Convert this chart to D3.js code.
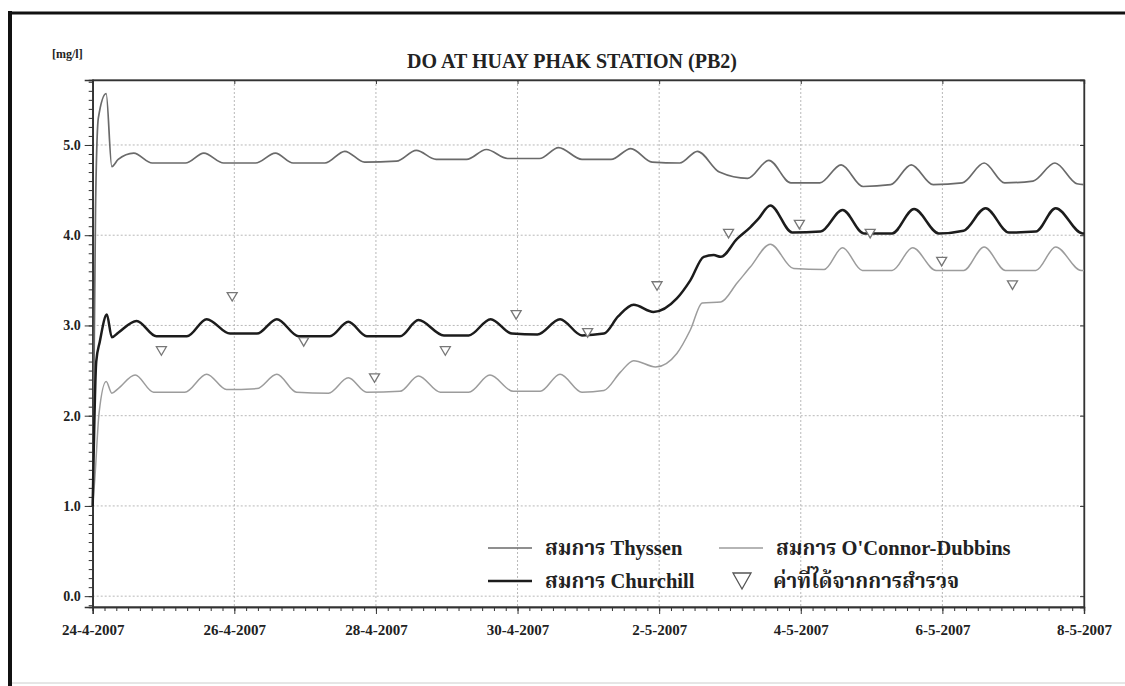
<!DOCTYPE html>
<html>
<head>
<meta charset="utf-8">
<script src="https://cdn.jsdelivr.net/npm/d3@7/dist/d3.min.js"></script>
<style>
body{margin:0;background:#fff;}
svg{display:block;}
.tick text{font-family:"Liberation Serif","Times New Roman",serif;font-weight:bold;fill:#222;}
.axis path,.axis line{stroke:#333;}
.grid line{stroke:#b8b8b8;stroke-dasharray:2,2;}
</style>
</head>
<body>
<div id="plot"></div>
<script>
//chart values, time given as days after 24-4-2007 00:00
var START = new Date(2007,3,24), END = new Date(2007,4,8);
var yTicks = [0,1,2,3,4,5];
var xTickDays = [0,2,4,6,8,10,12,14];

var thyssen = [[0,1.0],[0.04,4.3],[0.08,5.3],[0.19,5.57],[0.27,4.76],[0.36,4.84],[0.58,4.91],[0.84,4.80],[1.31,4.80],[1.57,4.91],[1.85,4.80],[2.30,4.80],[2.58,4.91],[2.83,4.80],[3.28,4.80],[3.56,4.93],[3.84,4.81],[4.29,4.82],[4.57,4.94],[4.85,4.84],[5.28,4.84],[5.56,4.95],[5.86,4.85],[6.31,4.85],[6.58,4.97],[6.91,4.84],[7.32,4.84],[7.60,4.96],[7.90,4.81],[8.29,4.80],[8.54,4.93],[8.85,4.70],[9.25,4.63],[9.55,4.83],[9.86,4.58],[10.27,4.58],[10.57,4.78],[10.88,4.54],[11.27,4.56],[11.56,4.78],[11.87,4.56],[12.28,4.58],[12.59,4.80],[12.88,4.58],[13.28,4.60],[13.59,4.80],[13.90,4.57],[14.0,4.56]];

var oconnor = [[0,1.0],[0.03,1.3],[0.09,2.03],[0.19,2.38],[0.27,2.25],[0.36,2.30],[0.60,2.45],[0.86,2.26],[1.30,2.26],[1.61,2.46],[1.89,2.29],[2.32,2.30],[2.60,2.46],[2.88,2.26],[3.33,2.25],[3.61,2.42],[3.87,2.26],[4.34,2.27],[4.60,2.44],[4.91,2.26],[5.31,2.26],[5.61,2.45],[5.94,2.27],[6.32,2.27],[6.60,2.46],[6.91,2.26],[7.22,2.28],[7.45,2.48],[7.64,2.61],[7.95,2.54],[8.25,2.69],[8.44,2.95],[8.61,3.25],[8.87,3.26],[9.10,3.47],[9.29,3.65],[9.57,3.90],[9.90,3.63],[10.33,3.62],[10.59,3.86],[10.87,3.61],[11.29,3.61],[11.58,3.86],[11.91,3.61],[12.30,3.61],[12.59,3.87],[12.89,3.61],[13.32,3.61],[13.60,3.87],[13.96,3.61],[14.0,3.61]];

var churchill = [[0,1.0],[0.05,2.6],[0.10,2.82],[0.20,3.12],[0.27,2.87],[0.36,2.92],[0.62,3.05],[0.90,2.88],[1.33,2.88],[1.61,3.07],[1.94,2.91],[2.32,2.91],[2.60,3.07],[2.91,2.88],[3.35,2.88],[3.61,3.04],[3.87,2.88],[4.34,2.88],[4.60,3.06],[4.96,2.89],[5.31,2.89],[5.62,3.07],[5.92,2.91],[6.28,2.90],[6.60,3.07],[6.91,2.89],[7.22,2.91],[7.42,3.10],[7.64,3.23],[7.92,3.15],[8.25,3.30],[8.44,3.50],[8.63,3.76],[8.77,3.78],[8.87,3.76],[9.10,3.96],[9.29,4.09],[9.40,4.18],[9.57,4.33],[9.88,4.03],[10.28,4.04],[10.59,4.28],[10.89,4.02],[11.29,4.02],[11.60,4.29],[11.95,4.02],[12.30,4.05],[12.61,4.30],[12.94,4.03],[13.32,4.04],[13.60,4.30],[13.98,4.02],[14.0,4.02]];

var surveyDays = [0.97,1.97,2.98,3.98,4.98,5.98,6.99,7.97,8.98,9.98,10.98,11.99,12.99];
var surveyVals = [2.72,3.32,2.82,2.42,2.72,3.12,2.92,3.44,4.02,4.12,4.02,3.71,3.45];

var legendNames = ['สมการ Thyssen','สมการ O\'Connor-Dubbins','สมการ Churchill','ค่าที่ได้จากการสำรวจ'];

var W = 1125, H = 686;
var m = {t:80,r:41,b:79,l:92.7}; //plot frame 92.7..1084 x 80..607

function toDate(t){ return new Date(START.getTime() + t*864e5); }

var svg = d3.select('#plot').append('svg').attr('width',W).attr('height',H);

//outer scanned frame
svg.append('line').attr('x1',10).attr('x2',10).attr('y1',11).attr('y2',686).attr('stroke','#111').attr('stroke-width',4);
svg.append('line').attr('x1',8).attr('x2',1125).attr('y1',13).attr('y2',13).attr('stroke','#111').attr('stroke-width',3);
svg.append('line').attr('x1',12).attr('x2',1125).attr('y1',683).attr('y2',683).attr('stroke','#ccc').attr('stroke-width',1);

var x = d3.scaleTime().domain([START,END]).range([m.l, W-m.r]),
	y = d3.scaleLinear().domain([-0.12,5.72]).range([H-m.b, m.t]);

var serif = '"Liberation Serif","Times New Roman",serif';

svg.append('text').attr('x',52).attr('y',58)
	.style('font-family',serif).style('font-weight','bold').style('font-size','12px').attr('fill','#222')
	.text('[mg/l]');
svg.append('text').attr('x',572).attr('y',68).attr('text-anchor','middle')
	.style('font-family',serif).style('font-weight','bold').style('font-size','20px').attr('fill','#222')
	.text('DO AT HUAY PHAK STATION (PB2)');

//grid
var grid = svg.append('g').attr('class','grid');
grid.selectAll('.gy').data(yTicks).enter().append('line')
	.attr('x1',m.l).attr('x2',W-m.r)
	.attr('y1',function(d){return y(d)}).attr('y2',function(d){return y(d)});
grid.selectAll('.gx').data(xTickDays.slice(1,-1)).enter().append('line')
	.attr('y1',m.t).attr('y2',H-m.b)
	.attr('x1',function(d){return x(toDate(d))}).attr('x2',function(d){return x(toDate(d))});

//frame
svg.append('rect').attr('x',m.l).attr('y',m.t).attr('width',W-m.r-m.l).attr('height',H-m.b-m.t)
	.attr('fill','none').attr('stroke','#444').attr('stroke-width',1.2);

//axes
var xMinor = d3.axisBottom(x).ticks(d3.timeHour.every(4)).tickSize(4).tickFormat('');
var xMajor = d3.axisBottom(x)
	.tickValues(xTickDays.map(toDate))
	.tickSize(7).tickPadding(10)
	.tickFormat(d3.timeFormat('%-d-%-m-%Y'));
svg.append('g').attr('class','axis').attr('transform','translate(0,'+(H-m.b)+')').call(xMinor);
svg.append('g').attr('class','axis axis-x').attr('transform','translate(0,'+(H-m.b)+')').call(xMajor)
	.selectAll('text').style('font-size','15px');

var yMinor = d3.axisLeft(y).tickValues(d3.range(-1,58).map(function(i){return i/10})).tickSize(4).tickFormat('');
var yMajor = d3.axisLeft(y).tickValues(yTicks).tickSize(8).tickPadding(4).tickFormat(d3.format('.1f'));
svg.append('g').attr('class','axis').attr('transform','translate('+m.l+',0)').call(yMinor);
svg.append('g').attr('class','axis axis-y').attr('transform','translate('+m.l+',0)').call(yMajor)
	.selectAll('text').style('font-size','14px');

//small inner ticks on the right and top frame
svg.append('g').attr('class','axis').attr('transform','translate('+(W-m.r)+',0)')
	.call(d3.axisRight(y).tickValues(yTicks).tickSize(-4).tickFormat(''));
svg.append('g').attr('class','axis').attr('transform','translate(0,'+m.t+')')
	.call(d3.axisTop(x).tickValues(xTickDays.map(toDate)).tickSize(-4).tickFormat(''));
svg.selectAll('.axis path').attr('stroke-width',1.4);

//series
var line = d3.line()
	.x(function(d){return x(toDate(d[0]))})
	.y(function(d){return y(d[1])})
	.curve(d3.curveMonotoneX);

var series = [
	{data:thyssen, color:'#6a6a6a', width:1.7},
	{data:oconnor, color:'#9c9c9c', width:1.5},
	{data:churchill, color:'#1c1c1c', width:2.5}
];
svg.append('g').selectAll('path').data(series).enter().append('path')
	.attr('d',function(d){return line(d.data)})
	.attr('fill','none')
	.attr('stroke',function(d){return d.color})
	.attr('stroke-width',function(d){return d.width})
	.attr('stroke-linejoin','round');

//survey triangles
var tri = function(cx,cy,s){ return 'M'+(cx-s)+','+(cy-s*0.8)+'L'+(cx+s)+','+(cy-s*0.8)+'L'+cx+','+(cy+s*0.9)+'Z'; };
svg.append('g').selectAll('path').data(surveyDays).enter().append('path')
	.attr('d',function(d,i){return tri(x(toDate(d)), y(surveyVals[i]), 5)})
	.attr('fill','#fff').attr('stroke','#777').attr('stroke-width',1.3);

//legend
var legendFont = '"Liberation Serif","Noto Serif Thai","Noto Sans Thai","Loma","Garuda",serif';
var lg = svg.append('g').style('font-family',legendFont).style('font-weight','bold').style('font-size','20.5px').attr('fill','#222');
var items = [
	{col:0,row:0,name:legendNames[0],s:series[0]},
	{col:1,row:0,name:legendNames[1],s:series[1]},
	{col:0,row:1,name:legendNames[2],s:series[2]},
	{col:1,row:1,name:legendNames[3],s:null}
];
var colX = [488,719], rowY = [548,581];
items.forEach(function(it){
	var lx = colX[it.col], ly = rowY[it.row];
	if(it.s){
		lg.append('line').attr('x1',lx).attr('x2',lx+44).attr('y1',ly).attr('y2',ly)
			.attr('stroke',it.s.color).attr('stroke-width',it.s.width);
	} else {
		lg.append('path').attr('d','M'+(lx+14)+','+(ly-8)+'L'+(lx+32)+','+(ly-8)+'L'+(lx+23)+','+(ly+8)+'Z')
			.attr('fill','none').attr('stroke','#555').attr('stroke-width',1.3);
	}
	lg.append('text').attr('x',lx+(it.s?57:54)).attr('y',ly+7).text(it.name);
});
</script>
</body>
</html>
